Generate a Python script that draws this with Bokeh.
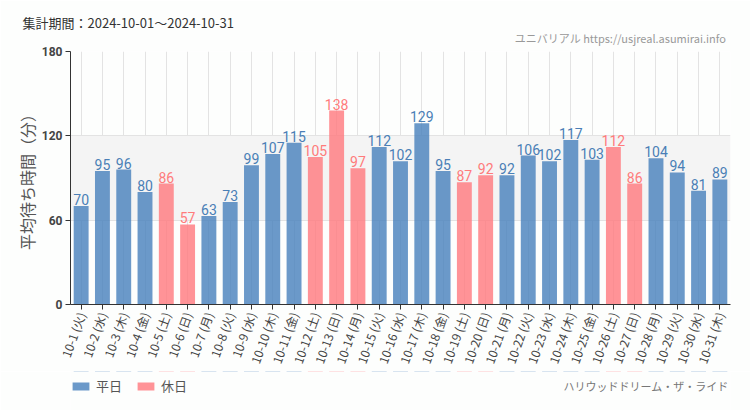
from bokeh.plotting import figure
from bokeh.layouts import column
from bokeh.models import (ColumnDataSource, LabelSet, Legend, LegendItem,
                          FixedTicker, Range1d, Title, CategoricalAxis)
from bokeh.core.properties import value
from bokeh.embed import file_html
from bokeh.resources import INLINE
import math

dates = ["10-1", "10-2", "10-3", "10-4", "10-5", "10-6", "10-7", "10-8", "10-9", "10-10",
         "10-11", "10-12", "10-13", "10-14", "10-15", "10-16", "10-17", "10-18", "10-19", "10-20",
         "10-21", "10-22", "10-23", "10-24", "10-25", "10-26", "10-27", "10-28", "10-29", "10-30", "10-31"]
weekdays = ["火", "水", "木", "金", "土", "日", "月", "火", "水", "木",
            "金", "土", "日", "月", "火", "水", "木", "金", "土", "日",
            "月", "火", "水", "木", "金", "土", "日", "月", "火", "水", "木"]
wait_minutes = [70, 95, 96, 80, 86, 57, 63, 73, 99, 107,
                115, 105, 138, 97, 112, 102, 129, 95, 87, 92,
                92, 106, 102, 117, 103, 112, 86, 104, 94, 81, 89]
is_holiday = [0, 0, 0, 0, 1, 1, 0, 0, 0, 0,
              0, 1, 1, 1, 0, 0, 0, 0, 1, 1,
              0, 0, 0, 0, 0, 1, 1, 0, 0, 0, 0]
y_ticks = [0, 60, 120, 180]
legend_names = ["平日", "休日"]
title_text = "集計期間：2024-10-01～2024-10-31"
site_text = "ユニバリアル  https://usjreal.asumirai.info"
ride_text = "ハリウッドドリーム・ザ・ライド"

BLUE = "#4a83bd"
PINK = "#ff7b80"
BLUE_TXT = "#4a7fb6"
PINK_TXT = "#ff7b7b"
DARK_TXT = "#444444"
BG = "#fdfefd"
JP = "Noto Sans CJK JP"
NUM = "Roboto"

W, LEFT, RIGHT, TOP, FRAME_H, BOT = 750, 70, 20, 51, 254, 66
cats = [f"{d} ({w})" for d, w in zip(dates, weekdays)]

def make_src(flag):
    idx = [i for i in range(len(cats)) if is_holiday[i] == flag]
    return ColumnDataSource(dict(
        x=[cats[i] for i in idx],
        v=[wait_minutes[i] for i in idx],
        lab=[str(wait_minutes[i]) for i in idx],
    ))

src_w = make_src(0)
src_h = make_src(1)

# ---------------- main chart ----------------
H1 = TOP + FRAME_H + BOT
p = figure(x_range=cats, y_range=Range1d(0, 180), width=W, height=H1,
           output_backend="svg", toolbar_location=None,
           min_border_left=LEFT, min_border_right=RIGHT, min_border_top=TOP, min_border_bottom=BOT,
           background_fill_color=BG, border_fill_color=BG)
p.outline_line_color = None

p.vbar(x="x", top="v", width=0.7, source=src_w, fill_color=BLUE, fill_alpha=0.82, line_color=None)
p.vbar(x="x", top="v", width=0.7, source=src_h, fill_color=PINK, fill_alpha=0.82, line_color=None)

p.xgrid.grid_line_color = "#e3e3e3"
p.ygrid.grid_line_color = "#e3e3e3"
p.ygrid.band_fill_color = "#f4f4f4"
p.ygrid.band_fill_alpha = 1.0

p.yaxis.ticker = FixedTicker(ticks=y_ticks)
p.yaxis.minor_tick_line_color = None
p.yaxis.axis_line_color = "#333333"
p.yaxis.major_tick_line_color = "#333333"
p.yaxis.major_tick_in = 0
p.yaxis.major_tick_out = 5
p.yaxis.major_label_text_font = NUM
p.yaxis.major_label_text_font_size = "12px"
p.yaxis.major_label_text_font_style = "bold"
p.yaxis.major_label_text_color = "#444444"
p.yaxis.major_label_standoff = 3
p.yaxis.axis_label = "平均待ち時間（分）"
p.yaxis.axis_label_text_font = JP
p.yaxis.axis_label_text_font_size = "16px"
p.yaxis.axis_label_text_font_style = "normal"
p.yaxis.axis_label_text_color = "#555555"
p.yaxis.axis_label_standoff = 0

ANG = math.radians(70)
holiday_cats = [c for c, h in zip(cats, is_holiday) if h]
weekday_cats = [c for c, h in zip(cats, is_holiday) if not h]

xa = p.xaxis[0]
xa.axis_line_color = "#333333"
xa.major_tick_line_color = "#333333"
xa.major_tick_in = 0
xa.major_tick_out = 5
xa.major_label_orientation = ANG
xa.major_label_standoff = 3
xa.major_label_text_font = JP
xa.major_label_text_font_size = "12px"
xa.major_label_text_color = DARK_TXT
xa.major_label_overrides = {c: "" for c in holiday_cats}
xa.separator_line_color = None
xa.separator_line_alpha = 0
xa.separator_line_width = 0

xa2 = CategoricalAxis(fixed_location=0, axis_line_color=None, major_tick_line_color=None,
                      major_tick_in=0, major_tick_out=5, major_label_orientation=ANG,
                      major_label_standoff=3, major_label_text_font=JP,
                      major_label_text_font_size="12px", major_label_text_color=PINK_TXT,
                      separator_line_color=None, separator_line_alpha=0, separator_line_width=0,
                      major_label_overrides={c: "" for c in weekday_cats})
p.add_layout(xa2, "below")

for src, col in ((src_w, BLUE_TXT), (src_h, PINK_TXT)):
    p.add_layout(LabelSet(x="x", y="v", text="lab", source=src, text_align="center",
                          text_baseline="bottom", y_offset=1,
                          text_font=value(NUM), text_font_size="14px", text_color=col))

p.add_layout(Title(text=site_text, align="right", offset=2, standoff=12,
                   text_font=JP, text_font_size="11px", text_font_style="normal",
                   text_color="#999999"), "above")
p.add_layout(Title(text=title_text, align="left", offset=-48, standoff=-20,
                   text_font=JP, text_font_size="13px", text_font_style="normal",
                   text_color="#333333"), "above")

# ---------------- bottom strip: legend and ride name ----------------
H2 = 410 - H1
SHIFT = 30
p2 = figure(width=W, height=H2, x_range=p.x_range, y_range=Range1d(-H2 - SHIFT, -SHIFT),
            output_backend="svg", toolbar_location=None,
            x_axis_type=None, y_axis_type=None,
            min_border_left=LEFT, min_border_right=RIGHT, min_border_top=0, min_border_bottom=0,
            background_fill_color=BG, border_fill_color=BG)
p2.outline_line_color = None
p2.grid.visible = False

# same series as above; they lie above this strip's range, so only their legend swatches show
lw = p2.vbar(x="x", top="v", width=0.7, source=src_w, fill_color=BLUE, fill_alpha=0.82, line_color=None)
lh = p2.vbar(x="x", top="v", width=0.7, source=src_h, fill_color=PINK, fill_alpha=0.82, line_color=None)
legend = Legend(items=[LegendItem(label=legend_names[0], renderers=[lw]),
                       LegendItem(label=legend_names[1], renderers=[lh])],
                location=(0, 15), orientation="horizontal",
                glyph_width=21, glyph_height=10, label_standoff=5, spacing=13,
                padding=0, margin=0, border_line_color=None, background_fill_alpha=0,
                label_text_font=JP, label_text_font_size="13px", label_text_color="#555555")
p2.add_layout(legend, "center")

u = (W - LEFT - RIGHT) / len(cats)
p2.text(x=[(728 - LEFT) / u], y=[-(385 - H1) - SHIFT], text=[ride_text], text_align="right",
        text_baseline="middle", text_font=value(JP), text_font_size="11px",
        text_color="#777777")

layout = column(p, p2, spacing=0)
open("out.html", "w").write(file_html(layout, INLINE))
